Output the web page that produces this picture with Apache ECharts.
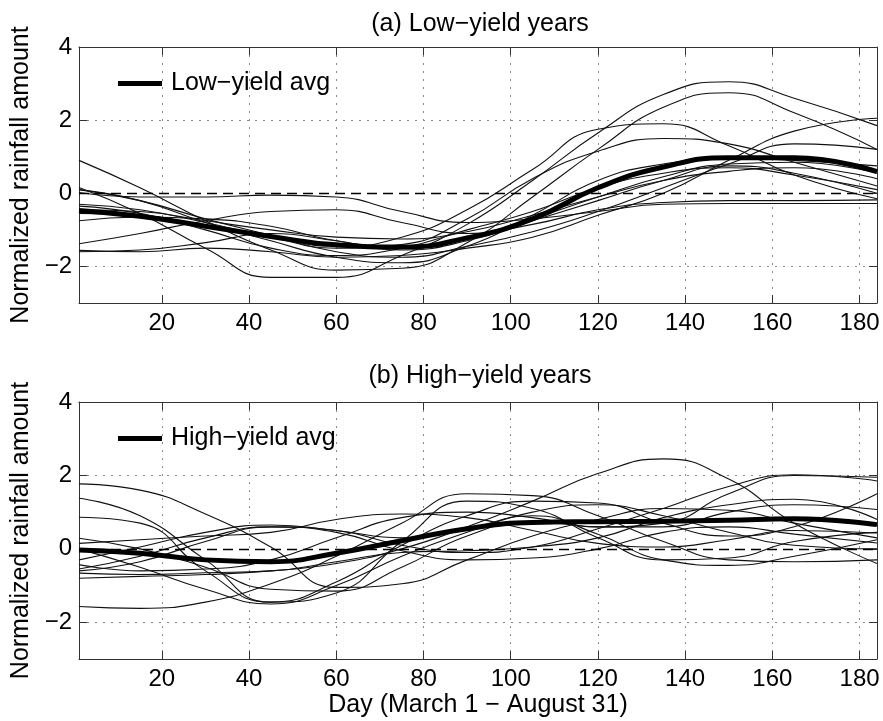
<!DOCTYPE html>
<html>
<head>
<meta charset="utf-8">
<script src="https://cdn.jsdelivr.net/npm/echarts@6/dist/echarts.min.js"></script>
<style>
html,body{margin:0;padding:0;background:#fff;}
#chart{width:883px;height:721px;}
</style>
</head>
<body>
<div id="chart"></div>
<script>
// ---- data ----
const days = [1, 15, 30, 45, 60, 75, 90, 105, 120, 135, 150, 165, 184];
const xTickLabels = [20, 40, 60, 80, 100, 120, 140, 160, 180];
const yTickLabels = [-2, 0, 2, 4];

// (a) low-yield years
const low1  = [0.16, -0.55, -1.50, -2.30, -2.30, -1.70, -0.85, 0.35, 1.65, 2.70, 3.05, 2.60, 1.85];
const low2  = [0.90, 0.15, -0.75, -1.55, -2.10, -2.05, -1.35, -0.10, 1.20, 2.35, 2.75, 2.20, 1.20];
const low3  = [-0.55, -0.60, -0.90, -1.20, -1.45, -1.20, -0.45, 0.65, 1.75, 1.90, 1.30, 0.50, -0.15];
const low4  = [-0.30, -0.45, -0.80, -1.20, -1.50, -1.40, -0.70, 0.40, 1.15, 1.50, 1.35, 0.85, 0.20];
const low5  = [-1.56, -1.60, -1.50, -1.60, -1.75, -1.70, -1.50, -1.20, -0.60, 0.00, 0.90, 1.70, 2.05];
const low6  = [0.10, -0.20, -0.70, -1.15, -1.60, -1.75, -1.45, -1.05, -0.50, 0.15, 0.80, 1.35, 1.20];
const low7  = [-1.38, -1.10, -0.75, -0.50, -0.45, -0.80, -1.10, -0.85, -0.45, -0.25, -0.20, -0.20, -0.18];
const low8  = [0.02, -0.10, -0.10, -0.05, -0.10, -0.50, -0.80, -0.70, -0.50, -0.30, -0.28, -0.28, -0.28];
const low9  = [-0.75, -0.65, -0.70, -0.90, -1.30, -1.45, -1.20, -0.70, -0.10, 0.45, 0.80, 0.85, 0.55];
const low10 = [-0.45, -0.50, -0.75, -1.00, -1.20, -1.25, -1.05, -0.60, -0.10, 0.35, 0.60, 0.70, 0.40];
const low11 = [-1.60, -1.55, -1.35, -1.10, -1.30, -1.55, -1.30, -0.75, -0.20, 0.35, 0.75, 0.55, 0.00];
const low12 = [-0.35, -0.55, -1.00, -1.50, -1.70, -1.50, -1.00, -0.50, 0.15, 0.55, 0.70, 0.50, 0.10];
const low13 = [0.10, -0.20, -0.80, -1.30, -1.75, -1.90, -1.45, -0.60, 0.35, 0.80, 0.95, 0.90, 0.75];
const lowAvg = [-0.47, -0.63, -0.90, -1.18, -1.41, -1.47, -1.22, -0.70, 0.15, 0.72, 0.97, 0.97, 0.59];

// (b) high-yield years
const high1  = [1.77, 1.60, 0.95, 0.05, -1.05, -0.95, -0.30, 0.35, 0.80, 1.10, 1.05, 0.70, 0.30];
const high2  = [1.38, 0.90, -0.30, -1.45, -1.20, 0.20, 1.30, 1.10, 0.30, -0.30, -0.25, 0.20, 0.45];
const high3  = [0.86, 0.70, -0.60, -1.45, -0.90, 0.10, 0.90, 1.30, 1.25, 0.70, 0.35, 0.60, 1.50];
const high4  = [-1.57, -1.62, -1.45, -0.95, -0.20, 0.70, 1.50, 1.45, 0.90, 0.20, -0.30, -0.35, -0.30];
const high5  = [-0.80, -0.75, -0.70, -0.60, -0.40, 0.00, 0.60, 1.30, 2.05, 2.45, 1.90, 0.70, -0.40];
const high6  = [0.29, 0.00, -0.50, -1.10, -1.15, -0.50, 0.35, 0.75, 0.60, 0.70, 1.50, 2.00, 1.95];
const high7  = [-0.55, -0.20, 0.30, 0.60, 0.50, 0.10, -0.10, 0.05, 0.55, 1.10, 1.70, 2.02, 1.85];
const high8  = [-0.30, 0.05, 0.45, 0.65, 0.50, 0.30, 0.55, 0.90, 0.40, -0.30, -0.45, -0.20, 0.25];
const high9  = [-0.43, -0.60, -0.55, -0.30, 0.30, 0.85, 1.00, 0.85, 0.60, 0.60, 1.00, 1.20, 1.07];
const high10 = [-0.66, -0.70, -0.65, -0.60, -0.35, -0.10, -0.05, 0.05, 0.30, 0.85, 1.20, 1.35, 0.80];
const high11 = [0.15, 0.25, 0.35, 0.45, 0.80, 0.95, 0.85, 0.50, 0.15, 0.05, 0.25, 0.50, 0.43];
const high12 = [-0.60, -0.35, 0.20, 0.60, 0.45, -0.05, -0.30, -0.25, 0.00, 0.45, 0.60, 0.40, 0.16];
const high13 = [0.00, -0.50, -1.10, -1.50, -1.00, -0.20, 0.45, 1.00, 1.20, 0.90, 0.45, 0.10, 0.00];
const highAvg = [-0.03, -0.12, -0.30, -0.35, -0.12, 0.22, 0.55, 0.72, 0.74, 0.75, 0.78, 0.82, 0.66];

const lowThin = [low1, low2, low3, low4, low5, low6, low7, low8, low9, low10, low11, low12, low13];
const highThin = [high1, high2, high3, high4, high5, high6, high7, high8, high9, high10, high11, high12, high13];

// ---- chart ----
const FONT = '"Liberation Sans", Arial, Helvetica, sans-serif';
const pair = arr => days.map((d, i) => [d, arr[i]]);
const fmtY = v => yTickLabels.indexOf(v) >= 0 ? (v < 0 ? '\u2212' + Math.abs(v) : String(v)) : '';
const fmtX = v => xTickLabels.indexOf(v) >= 0 ? String(v) : '';

const grids = [
  {left: 79, top: 47, width: 798, height: 256},
  {left: 79, top: 402, width: 798, height: 257}
];

const gridLine = {show: true, lineStyle: {color: '#8a8a8a', width: 1, type: [2, 6]}, showMinLine: false, showMaxLine: false};
const boxLine = {show: true, onZero: false, lineStyle: {color: '#333', width: 1}};
const tick = {show: true, inside: true, length: 8, lineStyle: {color: '#333', width: 1}};

const xAxes = [], yAxes = [];
[0, 1].forEach(g => {
  xAxes.push({
    type: 'value', gridIndex: g, min: 1, max: 184, splitNumber: 9, position: 'bottom',
    axisLine: boxLine, axisTick: tick, splitLine: gridLine,
    axisLabel: {formatter: fmtX, fontSize: 24, color: '#000', fontFamily: FONT, margin: 8},
    name: g === 1 ? 'Day (March 1 \u2212 August 31)' : '',
    nameLocation: 'middle', nameGap: 34,
    nameTextStyle: {fontSize: 25, color: '#000', fontFamily: FONT}
  });
  xAxes.push({
    type: 'value', gridIndex: g, min: 1, max: 184, splitNumber: 9, position: 'top',
    axisLine: boxLine, axisTick: tick, splitLine: {show: false}, axisLabel: {show: false}
  });
  yAxes.push({
    type: 'value', gridIndex: g, min: -3, max: 4, splitNumber: 4, position: 'left',
    axisLine: boxLine, axisTick: tick, splitLine: gridLine,
    axisLabel: {formatter: fmtY, fontSize: 24, color: '#000', fontFamily: FONT, margin: 7},
    name: 'Normalized rainfall amount', nameLocation: 'middle', nameGap: 42, nameRotate: 90,
    nameTextStyle: {fontSize: 25, color: '#000', fontFamily: FONT}
  });
  yAxes.push({
    type: 'value', gridIndex: g, min: -3, max: 4, splitNumber: 4, position: 'right',
    axisLine: boxLine, axisTick: tick, splitLine: {show: false}, axisLabel: {show: false}
  });
});

const series = [];
function addPanel(thin, avg, g, prefix, avgName) {
  thin.forEach((arr, i) => {
    const s = {
      name: prefix + (i + 1), type: 'line', xAxisIndex: g * 2, yAxisIndex: g * 2,
      data: pair(arr), smooth: 0.5, showSymbol: false, symbol: 'none', silent: true,
      lineStyle: {color: '#111', width: 1.1}, itemStyle: {color: '#111'}, z: 3
    };
    if (i === 0) {
      s.markLine = {
        silent: true, symbol: 'none', label: {show: false},
        lineStyle: {color: '#000', width: 1.3, type: [10, 6]},
        data: [{yAxis: 0}]
      };
    }
    series.push(s);
  });
  series.push({
    name: avgName, type: 'line', xAxisIndex: g * 2, yAxisIndex: g * 2,
    data: pair(avg), smooth: 0.5, showSymbol: false, symbol: 'none', silent: true,
    lineStyle: {color: '#000', width: 5}, itemStyle: {color: '#000'}, z: 5
  });
}
addPanel(lowThin, lowAvg, 0, 'low', 'Low\u2212yield avg');
addPanel(highThin, highAvg, 1, 'high', 'High\u2212yield avg');

const legendCommon = {
  orient: 'horizontal', icon: 'rect', itemWidth: 44, itemHeight: 5, selectedMode: false,
  padding: 0,
  textStyle: {fontSize: 25, color: '#000', fontFamily: FONT, padding: [0, 0, 0, 4]},
  left: 118
};

const option = {
  animation: false,
  backgroundColor: '#fff',
  grid: grids,
  xAxis: xAxes,
  yAxis: yAxes,
  legend: [
    Object.assign({}, legendCommon, {top: 71, data: ['Low\u2212yield avg']}),
    Object.assign({}, legendCommon, {top: 426, data: ['High\u2212yield avg']})
  ],
  graphic: [
    {type: 'text', x: 480, y: 24, style: {text: '(a) Low\u2212yield years', font: '25px ' + FONT, fill: '#000', textAlign: 'center', textVerticalAlign: 'middle', align: 'center', verticalAlign: 'middle'}},
    {type: 'text', x: 480, y: 376, style: {text: '(b) High\u2212yield years', font: '25px ' + FONT, fill: '#000', textAlign: 'center', textVerticalAlign: 'middle', align: 'center', verticalAlign: 'middle'}}
  ],
  series: series
};

const chart = echarts.init(document.getElementById('chart'), null, {renderer: 'canvas'});
chart.setOption(option);
</script>
</body>
</html>
